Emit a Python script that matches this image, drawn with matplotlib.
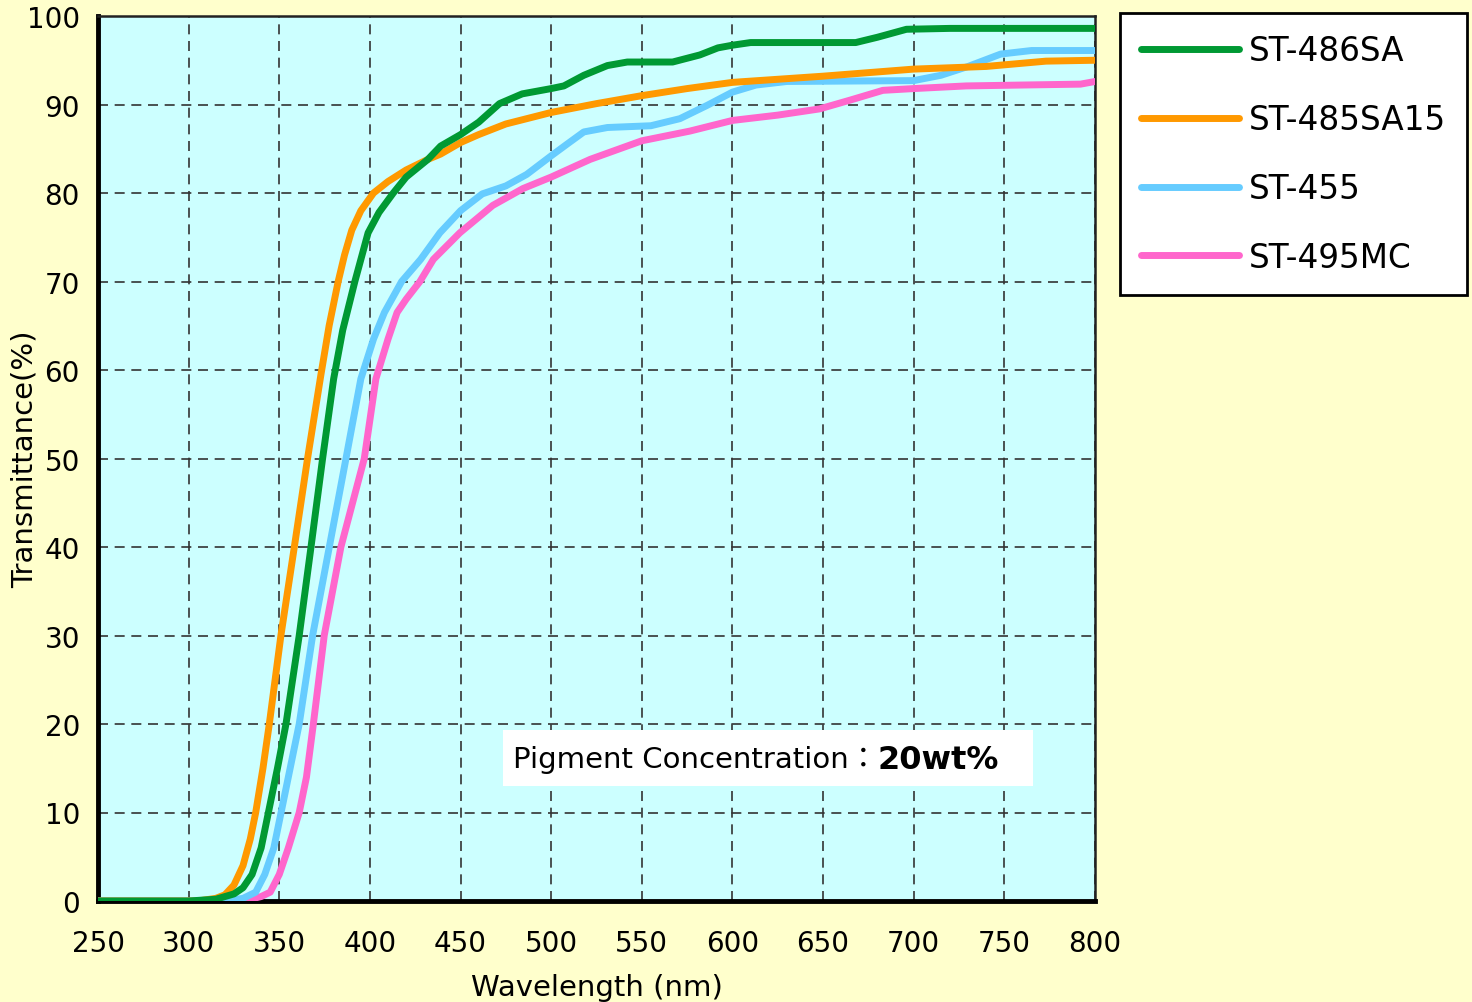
import matplotlib.pyplot as plt
from matplotlib.patches import Rectangle

# transmittance curves (wavelength nm, %T)
wl_486 = [250, 300, 315, 325, 330, 335, 340, 344, 349, 353.7, 361, 367.5, 373.9, 380, 385, 391.7, 399, 405,
          412.9, 420, 432, 439, 450, 460, 471.5, 484, 500, 507, 518, 531, 542, 567, 582, 592, 600, 610,
          668, 680, 696, 720, 800]
t_486 = [0, 0, 0.2, 0.8, 1.5, 3, 6, 10, 15, 20, 30, 40, 50, 59, 64.5, 70, 75.5, 77.8,
         80, 81.8, 83.8, 85.3, 86.6, 88, 90.1, 91.2, 91.8, 92.1, 93.3, 94.4, 94.8, 94.8, 95.6, 96.4, 96.7, 97.0,
         97.0, 97.6, 98.5, 98.6, 98.6]

wl_485 = [250, 305, 315, 320, 325, 330, 334, 337, 341, 344.5, 350.9, 358.3, 365.6, 373, 377.5, 382.5, 386, 390,
          395, 402, 410, 420, 432, 439, 450, 460, 475, 500, 525, 550, 575, 600, 650, 700, 740, 773, 800]
t_485 = [0, 0, 0.3, 0.7, 1.8, 4, 7, 10, 15, 20, 30, 40, 50, 59.5, 65, 70, 73, 75.8,
         78, 80, 81.3, 82.6, 83.8, 84.4, 85.7, 86.6, 87.8, 89.1, 90.1, 91.0, 91.8, 92.5, 93.2, 94.0, 94.3, 94.9, 95.0]

wl_455 = [250, 320, 330, 337, 342, 347, 351, 356, 361, 368.4, 377.6, 386.8, 395, 402, 408, 417.5, 428, 438.6,
          450, 462, 475, 486.5, 500, 508.6, 518, 531, 555, 571, 586, 600, 613, 630, 700, 715, 730, 748,
          765, 800]
t_455 = [0, 0, 0.3, 1, 3, 6, 10, 15, 20, 30, 40, 50, 59, 63.5, 66.5, 70, 72.5, 75.5,
         78, 79.9, 80.8, 82.1, 84.2, 85.5, 86.9, 87.4, 87.6, 88.4, 89.9, 91.4, 92.2, 92.6, 92.7, 93.3, 94.3, 95.7,
         96.1, 96.1]

wl_495 = [250, 330, 340, 345, 350, 355, 361, 365, 368.8, 374.8, 384, 396.9, 403.3, 410, 415, 420, 427.6, 435,
          449.6, 467.8, 484.4, 500, 521.5, 550, 576.6, 600, 625, 648, 665, 683, 700, 729, 760, 792, 800]
t_495 = [0, 0, 0.5, 1, 3, 6, 10, 14, 20, 30, 40, 50, 59, 63.5, 66.5, 68, 70, 72.5,
         75.5, 78.6, 80.5, 81.8, 83.8, 85.9, 87.0, 88.2, 88.8, 89.5, 90.5, 91.6, 91.8, 92.1, 92.2, 92.3, 92.6]

names = ['ST-486SA', 'ST-485SA15', 'ST-455', 'ST-495MC']
colors = ['#009933', '#FF9900', '#66CCFF', '#FF66CC']
x_ticks = [250, 300, 350, 400, 450, 500, 550, 600, 650, 700, 750, 800]
y_ticks = [0, 10, 20, 30, 40, 50, 60, 70, 80, 90, 100]

fig = plt.figure(figsize=(14.72, 10.03), dpi=100, facecolor='#FFFFCC')
ax = fig.add_axes([98 / 1472, 1 - 902 / 1003, 997 / 1472, 885 / 1003], facecolor='#CCFFFF')

series = [(wl_486, t_486), (wl_485, t_485), (wl_455, t_455), (wl_495, t_495)]
# draw back to front so green ends on top like the original
for (wl, t), name, c in reversed(list(zip(series, names, colors))):
    ax.plot(wl, t, color=c, lw=5, label=name, solid_capstyle='round',
            solid_joinstyle='round', zorder=3)

ax.set_xlim(250, 800)
ax.set_ylim(0, 100)
ax.set_xticks(x_ticks)
ax.set_yticks(y_ticks)
ax.tick_params(length=0, labelsize=20)
ax.tick_params(axis='x', pad=20)
ax.tick_params(axis='y', pad=13)
ax.grid(True, color='#333333', linestyle=(0, (6, 4)), linewidth=1.2)
ax.set_axisbelow(True)

for s in ['left', 'bottom']:
    ax.spines[s].set_linewidth(3.5)
for s in ['top', 'right']:
    ax.spines[s].set_linewidth(1.8)
    ax.spines[s].set_color('#222222')

ax.set_xlabel('Wavelength (nm)', fontsize=21)
ax.xaxis.set_label_coords(0.5, -0.081)
ax.set_ylabel('Transmittance(%)', fontsize=21)
ax.yaxis.set_label_coords(-0.060, 0.5)

# concentration note
ax.add_patch(Rectangle((0.406, 0.130), 0.532, 0.063, transform=ax.transAxes,
                       facecolor='white', edgecolor='none', zorder=4))
t1 = ax.text(0.416, 0.160, 'Pigment Concentration：', transform=ax.transAxes,
             fontsize=21, va='center', ha='left', zorder=5,
             family=['DejaVu Sans', 'Noto Sans CJK JP'])
ax.annotate('20wt%', xy=(1, 0.5), xycoords=t1, va='center', ha='left',
            fontsize=23, fontweight='bold', zorder=5, family='DejaVu Sans')

handles, labels = ax.get_legend_handles_labels()
leg = fig.legend(handles[::-1], labels[::-1], loc='upper left',
                 bbox_to_anchor=(1120 / 1472, 1 - 14 / 1003), borderaxespad=0,
                 fontsize=23.5, handlelength=3.0, handletextpad=0.3, labelspacing=1.1,
                 borderpad=0.65, fancybox=False, frameon=True)
leg.get_frame().set_edgecolor('black')
leg.get_frame().set_linewidth(2)
leg.get_frame().set_facecolor('white')
leg.get_frame().set_alpha(1)

fig.savefig('out.png', dpi=100, facecolor=fig.get_facecolor())
